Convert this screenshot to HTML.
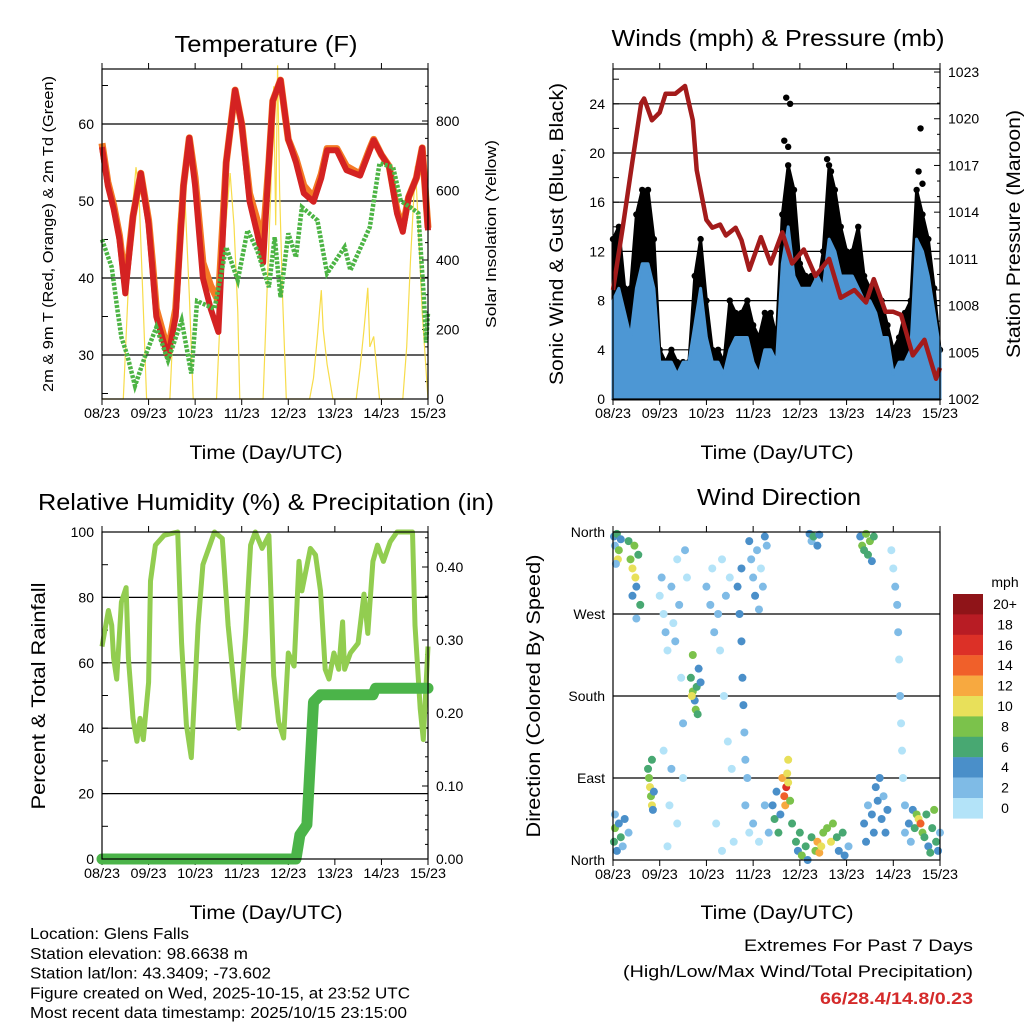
<!DOCTYPE html>
<html><head><meta charset="utf-8"><style>
html,body{margin:0;padding:0;background:#fff;}
svg{display:block;font-family:"Liberation Sans",sans-serif;}
</style></head><body>
<svg id="fig" width="1024" height="1024" viewBox="0 0 1024 1024" xmlns="http://www.w3.org/2000/svg">
<rect x="0" y="0" width="1024" height="1024" fill="#fff"/>
</svg>
<script>
// ---------- DATA ----------
const dayLabels=["08/23","09/23","10/23","11/23","12/23","13/23","14/23","15/23"];
const tempH=[0,3,6,9,12,16,20,24,26,28,34,38,42,45,48,52,56,60,64,68.6,72,76,80,83,86,88,92,96,100,104,109,113,116,121,126,133,138,140,144,148,152,155,158,162,165,168];
const temp2m=[57,52,49,45,38,48,53.6,47,41,35,29.7,35,52,58.2,52,40,36,33,55,64.4,60,50,45.8,42,55,63,65.7,58,55,51,49.9,53,56.6,56.6,54,53.3,56.6,57.9,56,54.4,48.4,46,50.5,53,56.9,46.2];
const temp9m=[57.5,52.5,49.5,45.5,39,48,53.6,47.5,42,36,30.5,36,52,58.2,53,42,39,37,55,64.4,60,51,47.5,45,55,63,65.7,58,55.5,52,50.5,53.5,56.8,56.8,54.5,53.5,56.8,58,56,54.5,48.8,46.5,50.5,53,56.9,46.5];
const dewH=[0,5,8,10,13,17,22,28,34,41,46,49,58,64,70,75,80,86,89,92,96,100,103,111,116,125,128,138,143,150,154,160,163,166,167,168];
const dewT=[45,41.4,35.8,32.3,30,26,29.7,33.6,29.3,34.5,27.6,37,36,44,39.7,46.2,43.6,38.8,45.3,37.5,45.8,42.7,49.2,47.5,40.6,44,41,46.6,54.9,54.4,50,49,48.4,37,31.6,35.5];
const solarH=[0,11,13,15,17.5,19,21,23,35,37,39,41.8,43,45,47,59,61,63,66,68,70,71,83,85,87,88.5,89.5,90.5,91.5,93,95,107,109,111,113,114,116,119,131,133,135,137,138,140,143,155,157,159,161.5,163,165,168];
const solarV=[0,0,250,500,667,600,300,0,0,250,500,650,550,300,0,0,250,450,650,500,250,0,0,300,600,900,500,960,600,300,0,0,60,180,313,200,100,0,0,90,200,320,150,180,0,0,150,400,670,500,250,0];
const windH=[0,3,6,9,12,15,18,21,24,27,30,33,36,39,42,45,48,51,54,57,60,63,66,69,72,75,78,81,84,87,90,93,96,99,102,105,108,111,114,117,120,123,126,129,132,135,138,141,144,147,150,153,156,159,162,165,168];
const windHi=[8,9,7,5,9,11,11,9,3,3,3,2,3,3,6,9,5,3,3,2,4,5,5,5,3,2,4,4,3,11,14,10,9,9,9,10,9,13,12,10,10,10,9,8,8,7,5,5,2,3,3,4,13,12,10,7,4];
const gustHi=[13,14,9,9,15,17,17,13,4,3,4,3,3,3,10,13,8,4,4,3,8,7,7,8,6,5,7,7,5,15,19,17,11,10,10,9,12,19,17,14,12,12,14,10,9,9,8,6,4,5,7,8,17,15,13,9,4];
const gustPeakH=[89,91,88,90,110,112,158,157,159];
const gustPeakV=[24.5,24,21,20.5,19.5,18.5,22,18.5,17.5];
const presH=[0,5,10,14.5,16,20,24,27,32,37,41,43,48,51,55,58,63,66,70,76,81,87,92,98,104,111,117,124,130,134,140,144,148,154,160,166,168];
const presV=[1009,1013,1017.3,1021,1021.3,1019.9,1020.4,1021.6,1021.6,1022.1,1019.9,1016.7,1013.5,1013,1013.2,1012.5,1013,1012.2,1010.3,1012.4,1010.7,1012.7,1010.7,1011.6,1009.9,1011,1008.5,1009,1008.2,1009.7,1007.6,1007.6,1007.4,1004.8,1005.8,1003.3,1004];
const rhH=[0,3.3,5,6,7.6,10,12.4,13.6,16,18,19.6,21.3,24,25,27.5,32,39,41,43.5,46,49.5,52,55,58,62,65,68.7,70.5,74,76.6,79,82.5,86,88.5,91,93.6,96,99,101.5,103,107.4,110,112.6,115,117,119.5,122,124,125,128,132,135,137,139.6,142,145,148.5,152,160,161.3,164,165.6,168];
const rhV=[65,76,71.5,61.5,55,78.6,83,61.5,43,36,43,36.5,54,85,96,99,100,66,41,31,71.5,90,95,100,98,71.5,49,40,69,96,100,95,99,56,42,37,63,59,91,82,95,93,82,58,55,63,58,72.5,58,63,66,81,69,91,96,91,97,100,100,71.5,46,36.5,65];
const prH=[0,100,102,105.6,109,112.6,139.6,141,168];
const prV=[0,0,0.033,0.047,0.215,0.225,0.225,0.234,0.234];
const dirH=[0.5,1,2,3,2.5,1.5,4, 0.5,1,2,3,4,5,6,8,1, 8,9,10,11,12,11.5,13,10,14,12, 18,19,19.5,20,20.5,18.5,21,20,
24,25,26,27,28,30,31,32,33,34,35,36,26,30,28,33,36,37,38,29, 40,41,42,43,42.5,44,41,43.5,40.5,45,
48,50,51,52,54,55,56,58,60,57,59,53,56,62,61, 64,65,66,66.5,67,67.5,68,69,66,68,70,
70,71,72,73,74,75,76,77,78,79,72,75,78,80, 82,83,84,85,86,87,88,89,88.5,89.5,90,91,92,90,
94,95,96,97,99,100,102,104,105,106,107,108,110,112,113,115,116,118,119,121, 101,102,103,105,106,
127,128,129,130,131,132,133,134, 129,130,131,133,134,135,136,137,138,139,140,141,
143,144,145,146,146.5,147,147.5,148,148.5,149,150,150, 152,153,154,155,156,157,158,159,160,161,162,163,164,165,166,167,168];
const dirDeg=[355,345,358,340,330,325,352, 20,35,10,40,25,15,45,30,50, 350,330,320,345,300,310,335,290,280,265, 100,80,70,60,55,90,75,110,
290,310,270,250,230,300,260,240,330,280,200,150,120,100,15,40,90,340,310,60, 200,185,175,190,165,210,225,160,180,195,
300,280,320,250,270,230,330,290,310,180,130,40,10,20,100, 300,270,240,200,170,140,110,90,320,60,30,
350,330,310,290,340,275,320,300,355,345,40,20,60,30, 60,45,75,30,50,90,70,80,60,95,85,65,40,110,
20,10,30,5,15,0,25,10,20,8,15,30,35,20,40,25,10,30,5,15, 358,350,355,345,357,
355,345,340,358,335,350,328,355, 40,20,60,50,30,80,65,90,45,70,30,55,
340,320,300,280,250,220,180,150,120,90,60,30, 40,20,55,35,50,45,40,30,25,50,15,8,35,55,20,10,30];
const dirSpd=[4,3,6,8,10,2,4, 6,8,4,4,6,3,4,3,2, 6,8,10,8,4,10,6,4,6,2, 6,10,8,10,4,8,4,6,
0,2,0,2,0,2,0,2,0,2,0,2,0,2,0,0,0,2,0,0, 6,8,4,6,8,4,8,6,10,4,
2,2,0,2,2,0,0,2,0,0,0,0,0,0,0, 4,4,4,4,4,2,2,2,4,2,0,
4,2,2,4,2,2,0,2,4,2,2,0,2,2, 4,6,4,6,4,12,14,16,12,10,10,8,6,10,
6,4,6,8,6,4,6,8,12,12,10,8,8,10,8,6,4,6,4,2, 4,2,6,4,4,
4,8,6,8,6,8,4,6, 4,4,2,4,4,4,4,4,4,2,4,4,
0,0,2,2,2,0,2,0,0,0,2,2, 4,2,4,6,8,10,14,8,6,6,4,6,6,8,6,4,2];
const cbLabels=["20+","18","16","14","12","10","8","6","4","2","0"];
const cbColors=["#8f1418","#b81c24","#dc3027","#f0602a","#f7a940","#e8e05a","#7bc24b","#48a872","#4a8fc9","#7fbbe6","#b3e3f8"];
// ---------- HELPERS ----------
const NS="http://www.w3.org/2000/svg";
const svg=document.getElementById('fig');
function mk(tag,attrs,parent){const e=document.createElementNS(NS,tag);for(const k in attrs)e.setAttribute(k,attrs[k]);(parent||svg).appendChild(e);return e;}
function txt(x,y,s,size,anchor,len,rot,fill,weight){
  const a={x:x,y:y,'font-size':size,'text-anchor':anchor||'middle',fill:fill||'#000'};
  if(len){a.textLength=len;a.lengthAdjust='spacingAndGlyphs';}
  if(rot)a.transform='rotate(-90 '+x+' '+y+')';
  if(weight)a['font-weight']=weight;
  const t=mk('text',a);t.textContent=s;return t;}
function pathD(xs,ys){return xs.map((v,i)=>(i?'L':'M')+v.toFixed(1)+' '+ys[i].toFixed(1)).join('');}
function frame(x0,y0,x1,y1,name){
  const g=mk('g',{});
  
  
  return g;}
function xAxis(x0,x1,y0,y1,g){
  for(let i=0;i<8;i++){const x=x0+i*(x1-x0)/7;
    mk('line',{x1:x,y1:y0,x2:x,y2:y0-6,stroke:'#000','stroke-width':1},g);
    mk('line',{x1:x,y1:y1,x2:x,y2:y1+6,stroke:'#000','stroke-width':1},g);
    const t=txt(x,y1+19,dayLabels[i],13.5,'middle',36);
    
    }
}
function box(x0,y0,x1,y1){const r=mk('rect',{x:x0,y:y0,width:x1-x0,height:y1-y0,fill:'none',stroke:'#000','stroke-width':1.2});
  
  }
function grid(x0,x1,y){mk('line',{x1:x0,y1:y,x2:x1,y2:y,stroke:'#000','stroke-width':1.2});}
function lTick(x,y,lab,g){mk('line',{x1:x,y1:y,x2:x+6,y2:y,stroke:'#000'},g);if(lab!==null){const t=txt(x-8,y+5,lab,14,'end');}}
function rTick(x,y,lab,g,len){mk('line',{x1:x,y1:y,x2:x-(len||6),y2:y,stroke:'#000'},g);if(lab!==null){const t=txt(x+8,y+5,lab,14,'start');}}

// ---------- PANEL 1: TEMPERATURE ----------
(function(){
  const X0=102,X1=428,Y0=69,Y1=399;
  const xs=h=>X0+h/168*(X1-X0), yT=t=>355-(t-30)*7.7, yS=v=>399-v*0.3475;
  const g=frame(X0,Y0,X1,Y1,'temperature-panel');
  [30,40,50,60].forEach(t=>{grid(X0,X1,yT(t));lTick(X0,yT(t),String(t),g);});
  [25,35,45,55,65].forEach(t=>lTick(X0,yT(t),null,g));
  for(let v=0;v<=900;v+=50){rTick(X1,yS(v),v%200===0?String(v):null,g,v%200===0?6:3);}
  const sol=mk('path',{d:pathD(solarH.map(xs),solarV.map(yS)),fill:'none',stroke:'#f7dc4a','stroke-width':1.2});
  
  
  const o=mk('path',{d:pathD(tempH.map(xs),temp9m.map(yT)),fill:'none',stroke:'#f47a25','stroke-width':7,'stroke-linejoin':'round'});
  
  
  const r=mk('path',{d:pathD(tempH.map(xs),temp2m.map(yT)),fill:'none',stroke:'#d42222','stroke-width':6,'stroke-linejoin':'round'});
  
  
  const d=mk('path',{d:pathD(dewH.map(xs),dewT.map(yT)),fill:'none',stroke:'#4cb444','stroke-width':4.5,'stroke-dasharray':'3 1.5'});
  
  
  box(X0,Y0,X1,Y1);xAxis(X0,X1,Y0,Y1,g);
  const t1=txt(266,52,'Temperature (F)',23,'middle',183);
  const t2=txt(53,234,'2m & 9m T (Red, Orange) & 2m Td (Green)',14.5,'middle',316,true);
  const t3=txt(496,234,'Solar Insolation (Yellow)',14.5,'middle',188,true);
  const t4=txt(266,459,'Time (Day/UTC)',19,'middle',153);
})();

// ---------- PANEL 2: WINDS ----------
(function(){
  const X0=613,X1=940,Y0=69,Y1=399;
  const xs=h=>X0+h/168*(X1-X0), yW=w=>399-w*12.3, yP=p=>399-(p-1002)*15.57;
  const g=frame(X0,Y0,X1,Y1,'winds-panel');
  [4,8,12,16,20,24].forEach(w=>grid(X0,X1,yW(w)));
  [0,4,8,12,16,20,24].forEach(w=>lTick(X0,yW(w),String(w),g));
  [2,6,10,14,18,22,26].forEach(w=>lTick(X0,yW(w),null,g));
  for(let p=1002;p<=1023;p++){rTick(X1,yP(p),(p-1002)%3===0?String(p):null,g,(p-1002)%3===0?6:3);}
  const gx=windH.map(xs),gy=gustHi.map(yW);
  const gp=mk('path',{d:pathD(gx,gy)+'L'+xs(168)+' '+yW(0)+'L'+xs(0)+' '+yW(0)+'Z',fill:'#000',stroke:'#000','stroke-width':3,'stroke-linejoin':'round'});
  
  
  gustPeakH.forEach((h,i)=>{const c=mk('circle',{cx:xs(h),cy:yW(gustPeakV[i]),r:3.2,fill:'#000'});
    
    });
  gustHi.forEach((v,i)=>{const c=mk('circle',{cx:gx[i],cy:gy[i],r:3.2,fill:'#000'});
    
    });
  const bx=windH.map(xs);
  const bp=mk('path',{d:pathD(bx,windHi.map(yW))+'L'+xs(168)+' '+(yW(0)-1)+'L'+xs(0)+' '+(yW(0)-1)+'Z',fill:'#4d97d4',stroke:'#4d97d4','stroke-width':3,'stroke-linejoin':'round'});
  
  
  const pl=mk('path',{d:pathD(presH.map(xs),presV.map(yP)),fill:'none',stroke:'#a31b1b','stroke-width':4.5,'stroke-linejoin':'round'});
  
  
  box(X0,Y0,X1,Y1);xAxis(X0,X1,Y0,Y1,g);
  const t1=txt(778,46,'Winds (mph) & Pressure (mb)',23,'middle',333);
  const t2=txt(563,234,'Sonic Wind & Gust (Blue, Black)',19,'middle',302,true);
  const t3=txt(1020,234,'Station Pressure (Maroon)',19,'middle',248,true);
  const t4=txt(777,459,'Time (Day/UTC)',19,'middle',153);
})();

// ---------- PANEL 3: RH & PRECIP ----------
(function(){
  const X0=102,X1=428,Y0=532,Y1=859;
  const xs=h=>X0+h/168*(X1-X0), yR=v=>859-v*3.27, yPr=v=>859-v*730;
  const g=frame(X0,Y0,X1,Y1,'humidity-panel');
  [20,40,60,80].forEach(v=>grid(X0,X1,yR(v)));
  [0,20,40,60,80,100].forEach(v=>lTick(X0,yR(v),String(v),g));
  [10,30,50,70,90].forEach(v=>lTick(X0,yR(v),null,g));
  for(let i=0;i<=44;i+=2){const v=i/100;rTick(X1,yPr(v),i%10===0?v.toFixed(2):null,g,i%10===0?6:3);}
  const rl=mk('path',{d:pathD(rhH.map(xs),rhV.map(yR)),fill:'none',stroke:'#92cd50','stroke-width':5,'stroke-linejoin':'round'});
  
  
  const pl=mk('path',{d:pathD(prH.map(xs),prV.map(yPr)),fill:'none',stroke:'#4bb449','stroke-width':11,'stroke-linejoin':'round','stroke-linecap':'round'});
  
  
  box(X0,Y0,X1,Y1);xAxis(X0,X1,Y0,Y1,g);
  const t1=txt(266,510,'Relative Humidity (%) & Precipitation (in)',23,'middle',456);
  const t2=txt(45,696,'Percent & Total Rainfall',19,'middle',227,true);
  const t4=txt(266,919,'Time (Day/UTC)',19,'middle',153);
})();

// ---------- PANEL 4: WIND DIRECTION ----------
(function(){
  const X0=613,X1=940,Y0=532,Y1=860;
  const xs=h=>X0+h/168*(X1-X0), yD=d=>860-d*328/360;
  const g=frame(X0,Y0,X1,Y1,'wind-direction-panel');
  const names=["North","East","South","West","North"];
  [0,90,180,270,360].forEach((d,i)=>{if(d>0&&d<360)grid(X0,X1,yD(d));lTick(X0,yD(d),names[i],g);});
  const col=s=>cbColors[10-Math.min(10,Math.floor(s/2))];
  dirH.forEach((h,i)=>{const c=mk('circle',{cx:xs(h),cy:yD(dirDeg[i]),r:4,fill:col(dirSpd[i])});
    
    });
  box(X0,Y0,X1,Y1);xAxis(X0,X1,Y0,Y1,g);
  const t1=txt(779,505,'Wind Direction',23,'middle',164);
  const t2=txt(540,696,'Direction (Colored By Speed)',19,'middle',283,true);
  const t4=txt(777,919,'Time (Day/UTC)',19,'middle',153);
  const cb=mk('g',{});
  
  
  cbColors.forEach((c,i)=>{const y=594+i*20.4;
    const r=mk('rect',{x:953,y:y,width:30,height:20.6,fill:c},cb);
    
    
    const t=txt(1005,y+15,cbLabels[i],14,'middle');
    
    });
  const u=txt(1005,587,'mph',14,'middle');
})();

// ---------- FOOTER TEXT ----------
(function(){
  const lines=["Location: Glens Falls","Station elevation: 98.6638 m","Station lat/lon: 43.3409; -73.602","Figure created on Wed, 2025-10-15, at 23:52 UTC","Most recent data timestamp: 2025/10/15 23:15:00"];
  const lens=[159,218,241,380,377];
  lines.forEach((s,i)=>{const t=txt(30,939+i*19.8,s,15.5,'start',lens[i]);});
  const a=txt(973,951,'Extremes For Past 7 Days',17,'end',229);
  const b=txt(973,977,'(High/Low/Max Wind/Total Precipitation)',17,'end',350);
  const c=txt(973,1004,'66/28.4/14.8/0.23',17,'end',153,false,'#d42a2a','bold');
})();
</script>
</body></html>
